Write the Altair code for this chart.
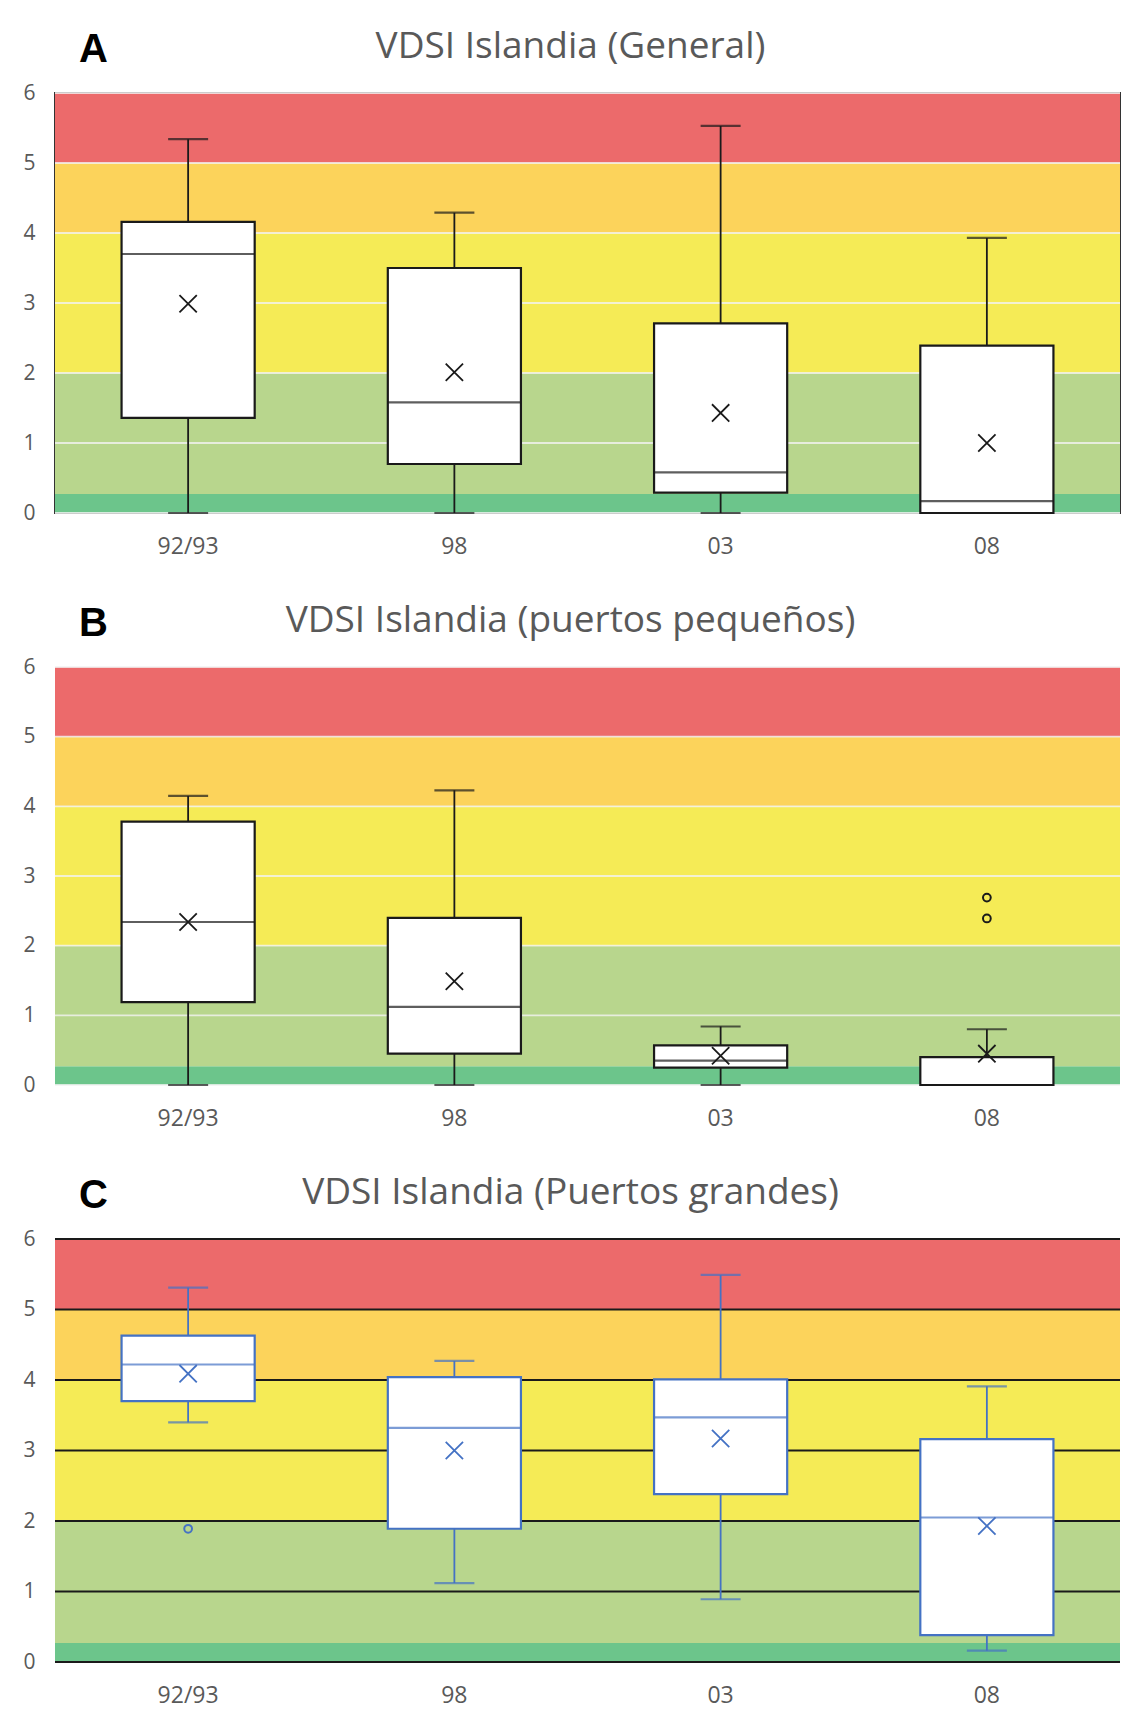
import altair as alt
import pandas as pd

cats = ["92/93", "98", "03", "08"]
titles = ["VDSI Islandia (General)", "VDSI Islandia (puertos pequeños)", "VDSI Islandia (Puertos grandes)"]
letters = ["A", "B", "C"]

# Panel A (General)
a_low = [0.0, 0.0, 0.0, 0.0]
a_q1 = [1.36, 0.70, 0.29, 0.0]
a_med = [3.70, 1.58, 0.58, 0.17]
a_q3 = [4.16, 3.50, 2.71, 2.39]
a_high = [5.34, 4.29, 5.53, 3.93]
a_mean = [2.99, 2.01, 1.43, 1.00]
a_out_cat = []
a_out_val = []

# Panel B (puertos pequeños)
b_low = [0.0, 0.0, 0.0, 0.0]
b_q1 = [1.19, 0.45, 0.25, 0.0]
b_med = [2.34, 1.12, 0.35, 0.0]
b_q3 = [3.78, 2.40, 0.57, 0.40]
b_high = [4.15, 4.23, 0.84, 0.80]
b_mean = [2.34, 1.49, 0.42, 0.45]
b_out_cat = ["08", "08"]
b_out_val = [2.69, 2.39]

# Panel C (Puertos grandes)
c_low = [3.40, 1.12, 0.89, 0.16]
c_q1 = [3.70, 1.89, 2.38, 0.38]
c_med = [4.22, 3.32, 3.47, 2.05]
c_q3 = [4.63, 4.04, 4.01, 3.16]
c_high = [5.31, 4.27, 5.49, 3.91]
c_mean = [4.09, 3.00, 3.17, 1.93]
c_out_cat = ["92/93"]
c_out_val = [1.89]

band_lo = [0.0, 0.27, 2.0, 4.0, 5.0]
band_hi = [0.27, 2.0, 4.0, 5.0, 6.0]
band_colors = ["#6CC58B", "#B8D68D", "#F5EB56", "#FCD35B", "#EC6A6B"]
tick_values = [0, 1, 2, 3, 4, 5, 6]

FONT = "Open Sans"
TXT = "#595959"


def panel(letter, title, low, q1, med, q3, high, mean, out_cat, out_val,
          color, grid_color, grid_width, grid_opacity, frame_color, height):
    box = pd.DataFrame(dict(cat=cats, low=low, q1=q1, med=med, q3=q3, high=high, mean=mean))
    bands = pd.DataFrame(dict(lo=band_lo, hi=band_hi, color=band_colors))
    grid = pd.DataFrame(dict(v=tick_values))
    outs = pd.DataFrame(dict(cat=out_cat, v=out_val))

    xaxis = alt.Axis(labelAngle=0, labelFont=FONT, labelFontSize=23, labelColor=TXT,
                     labelPadding=22, ticks=False, domain=False, title=None, grid=False)
    xscale = alt.Scale(domain=cats, paddingInner=0, paddingOuter=0)
    yaxis = alt.Axis(values=tick_values, title=letter, titleAngle=0, titleX=38, titleY=-44,
                     titleAlign="center", titleBaseline="middle", titleFont="Liberation Sans",
                     titleFontWeight="bold", titleFontSize=40, titleColor="black",
                     grid=False, domain=False, ticks=False, labelPadding=20,
                     labelFont=FONT, labelFontSize=21, labelColor=TXT,
                     minExtent=40, maxExtent=40)
    yscale = alt.Scale(domain=[0, 6], nice=False, zero=False)

    def X():
        return alt.X("cat:N", sort=cats, scale=xscale, axis=xaxis)

    def Y(f):
        return alt.Y(f, scale=yscale, axis=yaxis)

    band_layer = alt.Chart(bands).mark_rect().encode(
        y=Y("lo:Q"), y2="hi:Q", color=alt.Color("color:N", scale=None))
    grid_layer = alt.Chart(grid).mark_rule(color=grid_color, strokeWidth=grid_width,
                                           opacity=grid_opacity).encode(y=Y("v:Q"))
    whisk = alt.Chart(box).mark_rule(color=color, strokeWidth=1.8).encode(
        x=X(), y=Y("low:Q"), y2="high:Q")
    cap_hi = alt.Chart(box).mark_tick(color=color, size=40, thickness=2.2).encode(x=X(), y=Y("high:Q"))
    cap_lo = alt.Chart(box).mark_tick(color=color, size=40, thickness=2.2).encode(x=X(), y=Y("low:Q"))
    boxes = alt.Chart(box).mark_bar(fill="white", stroke=color, strokeWidth=2.2,
                                    width=alt.RelativeBandSize(0.5)).encode(
        x=X(), y=Y("q1:Q"), y2="q3:Q")
    medians = alt.Chart(box).mark_tick(color=color, size=133, thickness=2.2).encode(x=X(), y=Y("med:Q"))
    means = alt.Chart(box).mark_point(shape="M-1,-1L1,1M1,-1L-1,1", size=300, strokeWidth=1.8,
                                      color=color, filled=False, opacity=1).encode(x=X(), y=Y("mean:Q"))
    layers = [band_layer, grid_layer, whisk, cap_hi, cap_lo, boxes, medians, means]
    if len(out_val) > 0:
        layers.append(alt.Chart(outs).mark_point(shape="circle", size=60, filled=False, strokeWidth=2,
                                                 color=color, opacity=1).encode(x=X(), y=Y("v:Q")))
    return alt.layer(*layers).properties(
        width=1065, height=height,
        title=alt.Title(title, font=FONT, fontSize=37, color=TXT, fontWeight="normal",
                        anchor="middle", dx=-17, offset=-37),
        view=alt.ViewBackground(stroke=frame_color, strokeWidth=2),
    )


pa = panel("A", titles[0], a_low, a_q1, a_med, a_q3, a_high, a_mean, a_out_cat, a_out_val,
           "#1a1a1a", "#F2F2F2", 1.8, 0.8, "#333333", 420)
pb = panel("B", titles[1], b_low, b_q1, b_med, b_q3, b_high, b_mean, b_out_cat, b_out_val,
           "#1a1a1a", "#F2F2F2", 1.8, 0.8, "transparent", 418)
pc = panel("C", titles[2], c_low, c_q1, c_med, c_q3, c_high, c_mean, c_out_cat, c_out_val,
           "#4472C4", "#1a1a1a", 2, 1, "transparent", 423)

chart = alt.vconcat(pa, pb, pc, spacing=42).properties(
    padding={"left": 6, "top": 19, "right": 0, "bottom": 0}
).configure(background="white")

chart.save("out.html", embed_options={"renderer": "svg", "actions": False})
